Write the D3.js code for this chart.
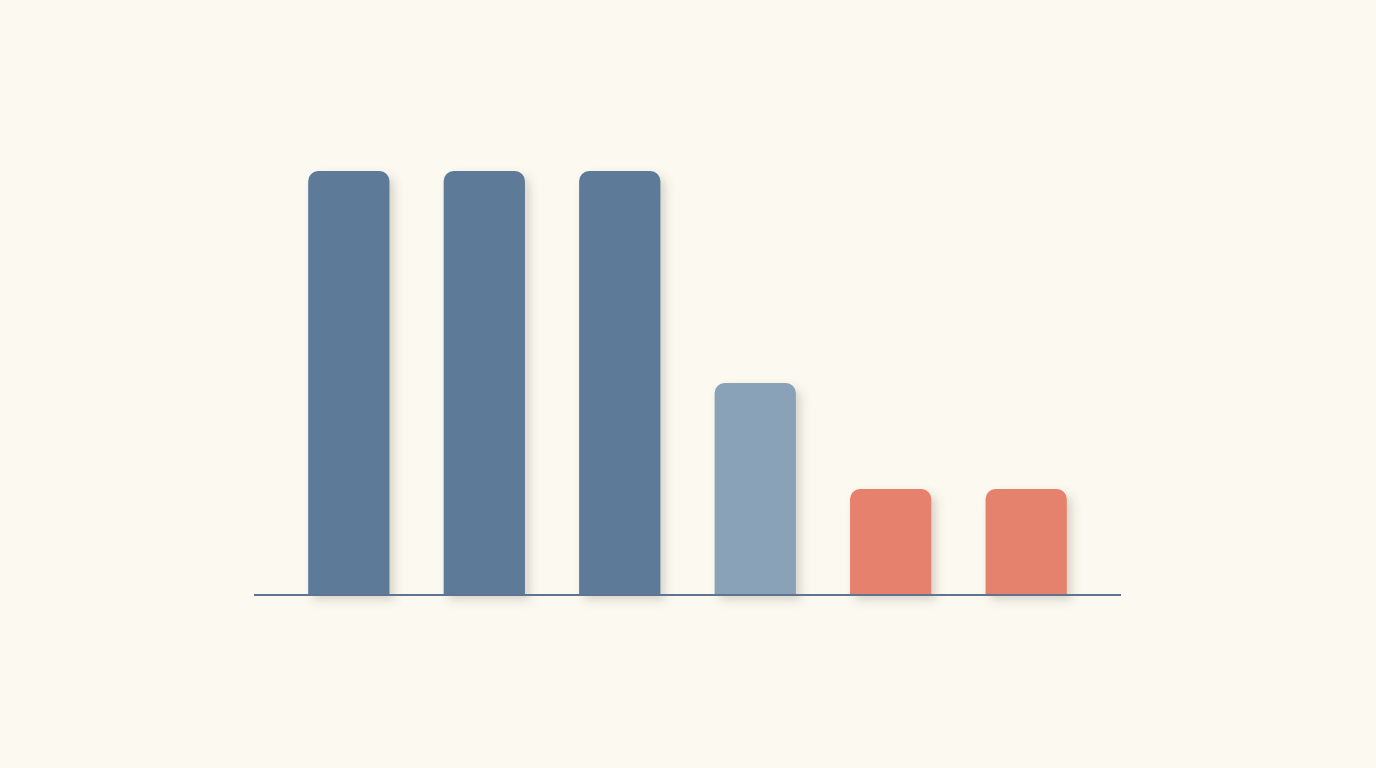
<!DOCTYPE html>
<html><head><meta charset="utf-8">
<script src="https://cdn.jsdelivr.net/npm/d3@7/dist/d3.min.js"></script>
<style>html,body{margin:0;padding:0;background:#fcfaf0;}svg{display:block;}</style>
</head><body>
<svg id="c" width="1376" height="768"></svg>
<script>
const categories = ["A", "B", "C", "D", "E", "F"];
const values = [4, 4, 4, 2, 1, 1];
const colors = ["#5d7a98", "#5d7a98", "#5d7a98", "#8aa2b8", "#e5816d", "#e5826e"];

const svg = d3.select("#c");
svg.append("rect").attr("width", 1376).attr("height", 768).attr("fill", "#fcfaf0");

const defs = svg.append("defs");
const f = defs.append("filter").attr("id", "sh").attr("x", "-30%").attr("y", "-30%").attr("width", "160%").attr("height", "160%");
f.append("feDropShadow").attr("dx", 5).attr("dy", 5).attr("stdDeviation", 5)
  .attr("flood-color", "#5a5040").attr("flood-opacity", 0.22);

const x = d3.scaleBand().domain(categories).range([254, 1121]).paddingInner(0.4).paddingOuter(0.4);
const y = d3.scaleLinear().domain([0, 4]).range([595, 171]);

function topRounded(x0, y0, w, h, r) {
  const p = d3.path();
  p.moveTo(x0, y0 + h);
  p.lineTo(x0, y0 + r);
  p.arcTo(x0, y0, x0 + r, y0, r);
  p.lineTo(x0 + w - r, y0);
  p.arcTo(x0 + w, y0, x0 + w, y0 + r, r);
  p.lineTo(x0 + w, y0 + h);
  p.closePath();
  return p.toString();
}

svg.append("g").selectAll("path").data(categories).join("path")
  .attr("d", (c, i) => topRounded(x(c), y(values[i]), x.bandwidth(), y(0) - y(values[i]), 10))
  .attr("fill", (c, i) => colors[i])
  .attr("filter", "url(#sh)");

svg.append("line").attr("x1", 254).attr("x2", 1121).attr("y1", y(0)).attr("y2", y(0))
  .attr("stroke", "#5f7490").attr("stroke-width", 2);
</script>
</body></html>
